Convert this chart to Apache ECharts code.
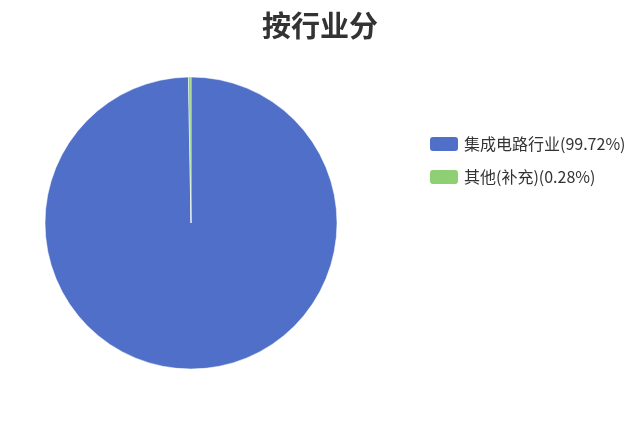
<!DOCTYPE html>
<html><head><meta charset="utf-8">
<script src="https://cdn.jsdelivr.net/npm/echarts@6/dist/echarts.min.js"></script>
<style>html,body{margin:0;padding:0;background:#fff}#c{width:640px;height:448px}</style>
</head><body><div id="c"></div>
<script>
const categories = ['集成电路行业', '其他(补充)'];
const values = [99.72, 0.28];
const colors = ['#4f6fc8', '#8fcf73'];

const chart = echarts.init(document.getElementById('c'));
chart.setOption({
  animation: false,
  title: {
    text: '按行业分', left: 'center', top: 6,
    textStyle: { fontFamily: 'Noto Sans CJK SC', fontSize: 29, fontWeight: 'bold', color: '#333' }
  },
  legend: {
    orient: 'vertical', left: 423, top: 130,
    itemWidth: 30, itemHeight: 16, itemGap: 15,
    icon: 'roundRect',
    textStyle: { fontFamily: 'Noto Sans CJK SC', fontSize: 16, color: '#333' },
    formatter: function (name) {
      const i = categories.indexOf(name);
      return name + '(' + values[i].toFixed(2) + '%)';
    }
  },
  color: colors,
  series: [{
    type: 'pie', center: [191, 223], radius: 146,
    startAngle: 90, clockwise: true,
    label: { show: false }, labelLine: { show: false },
    itemStyle: { borderColor: '#fff', borderWidth: 0.5 },
    emphasis: { disabled: true },
    data: categories.map((n, i) => ({ name: n, value: values[i] }))
  }]
});
</script></body></html>
